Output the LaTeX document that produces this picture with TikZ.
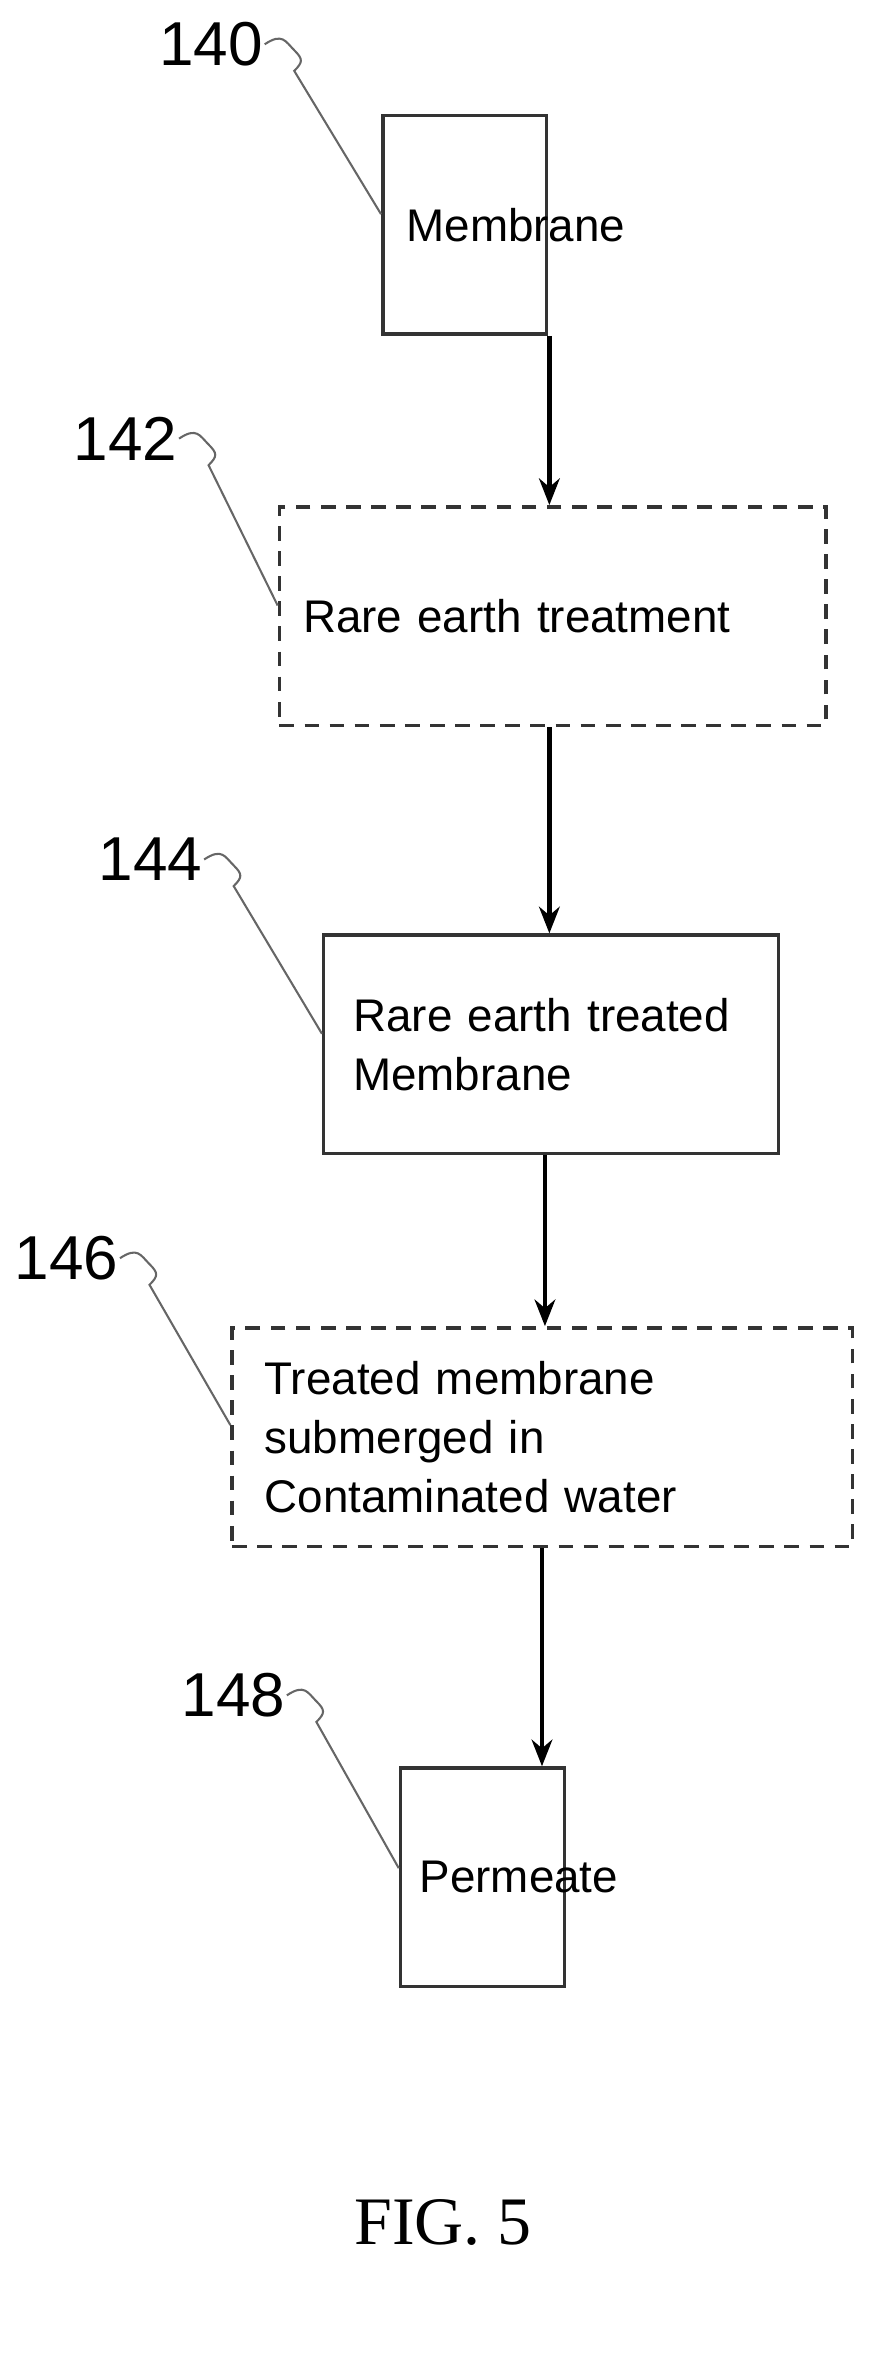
\documentclass[tikz,border=0pt]{standalone}
\usepackage{fontspec}
\setmainfont{Liberation Sans}
\newfontfamily\figfont{Liberation Serif}
\usetikzlibrary{arrows.meta}
\begin{document}
\begin{tikzpicture}[x=1pt,y=-1pt,
  box/.style={draw=black!80,line width=2.4pt,minimum height=148pt,inner xsep=16pt,inner ysep=0pt,align=left,font=\fontsize{31}{40}\selectfont,anchor=north west},
  dbox/.style={box,dash pattern=on 10pt off 7pt},
  arr/.style={line width=3pt,-{Stealth[length=18pt,width=14pt]}},
  lbl/.style={font=\fontsize{42}{42}\selectfont,inner sep=1pt},
  lead/.style={draw=black!60,line width=1.4pt}]
\useasboundingbox (0,0) rectangle (600,1594);
\node[box,minimum width=111pt,text width=79pt] (b1) at (258,77) {Membrane};
\node[dbox,minimum width=370pt,text width=338pt] (b2) at (188,342) {Rare earth treatment};
\node[box,minimum width=305pt,text width=268pt,inner xsep=20pt] (b3) at (218,632) {Rare earth treated\\Membrane};
\node[dbox,minimum width=420pt,text width=376pt,inner xsep=22pt] (b4) at (156,898) {Treated membrane\\submerged in\\Contaminated water};
\node[box,minimum width=111pt,text width=85pt,inner xsep=13pt] (b5) at (270,1196) {Permeate};
\draw[arr] (b1.south -| 372,0) -- (b2.north -| 372,0);
\draw[arr] (b2.south -| 372,0) -- (b3.north -| 372,0);
\draw[arr] (b3.south -| 369,0) -- (b4.north -| 369,0);
\draw[arr] (b4.south -| 367,0) -- (b5.north -| 367,0);
\node[lbl] (l1) at (143,30) {140};
\node[lbl] (l2) at (85,297) {142};
\node[lbl] (l3) at (102,582) {144};
\node[lbl] (l4) at (45,852) {146};
\node[lbl] (l5) at (158,1148) {148};
\foreach \l/\b/\y in {l1/b1/145, l2/b2/410, l3/b3/700, l4/b4/965, l5/b5/1265}{
  \draw[lead] (\l.east) .. controls +(12,-8) and +(-6,-6) .. ++(20,4)
     .. controls +(6,6) and +(6,-6) .. ++(0,14) -- (\b.west |- 0,\y);
}
\node[font=\figfont\fontsize{46}{46}\selectfont] (fig) at (300,1505) {FIG. 5};
\end{tikzpicture}
\end{document}
